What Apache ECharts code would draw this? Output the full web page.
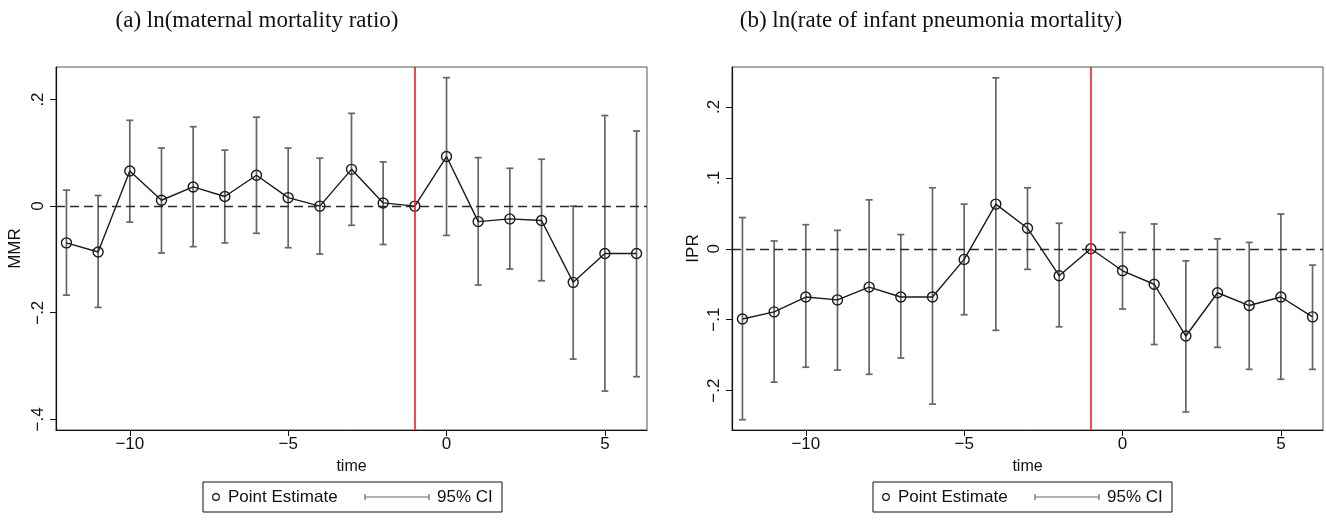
<!DOCTYPE html>
<html>
<head>
<meta charset="utf-8">
<script src="https://cdn.jsdelivr.net/npm/echarts@6/dist/echarts.min.js"></script>
<style>
  html, body { margin: 0; padding: 0; background: #fff; }
  #chart { width: 1326px; height: 520px; }
</style>
</head>
<body>
<div id="chart"></div>
<script>
// Event time relative to the reform (t = -1 is the omitted reference year)
const time = [-12, -11, -10, -9, -8, -7, -6, -5, -4, -3, -2, -1, 0, 1, 2, 3, 4, 5, 6];

// (a) ln(maternal mortality ratio): point estimates and 95% CI bounds
const mmrEst  = [-0.069, -0.086, 0.066, 0.011, 0.036, 0.018, 0.058, 0.016, 0.000, 0.069, 0.006, 0, 0.093, -0.029, -0.024, -0.027, -0.143, -0.089, -0.089];
const mmrLow  = [-0.167, -0.190, -0.030, -0.088, -0.076, -0.069, -0.051, -0.078, -0.090, -0.036, -0.072, null, -0.055, -0.148, -0.118, -0.140, -0.287, -0.347, -0.320];
const mmrHigh = [0.030, 0.020, 0.161, 0.109, 0.149, 0.105, 0.167, 0.109, 0.090, 0.174, 0.083, null, 0.241, 0.091, 0.071, 0.088, 0.000, 0.170, 0.141];

// (b) ln(rate of infant pneumonia mortality): point estimates and 95% CI bounds
const iprEst  = [-0.099, -0.089, -0.068, -0.072, -0.054, -0.068, -0.068, -0.015, 0.063, 0.029, -0.038, 0, -0.031, -0.050, -0.123, -0.062, -0.080, -0.068, -0.096];
const iprLow  = [-0.241, -0.188, -0.167, -0.171, -0.177, -0.154, -0.219, -0.093, -0.115, -0.029, -0.110, null, -0.085, -0.135, -0.230, -0.139, -0.170, -0.184, -0.170];
const iprHigh = [0.044, 0.011, 0.034, 0.026, 0.069, 0.020, 0.086, 0.063, 0.241, 0.086, 0.036, null, 0.023, 0.035, -0.017, 0.014, 0.009, 0.049, -0.023];

// Tick labels
const xTicks = [-10, -5, 0, 5];
const mmrTicks = [-0.4, -0.2, 0, 0.2];
const iprTicks = [-0.2, -0.1, 0, 0.1, 0.2];

const panelTitles = ['(a) ln(maternal mortality ratio)', '(b) ln(rate of infant pneumonia mortality)'];
const yNames = ['MMR', 'IPR'];
const eventLine = -1;

const SANS = '"Liberation Sans", Arial, Helvetica, sans-serif';
const SERIF = '"Liberation Serif", "Times New Roman", serif';
const CI_COLOR = '#666666';
const LINE_COLOR = '#1a1a1a';

function fmtY(v) {
  if (Math.abs(v) < 1e-9) return '0';
  const s = String(Math.round(Math.abs(v) * 10) / 10).replace(/^0/, '');
  return (v < 0 ? '\u2212' : '') + s;
}
function fmtX(v) {
  return v < 0 ? '\u2212' + Math.abs(v) : String(v);
}

function ciData(lo, hi) {
  const out = [];
  time.forEach((t, i) => {
    if (lo[i] !== null && hi[i] !== null) out.push([t, lo[i], hi[i]]);
  });
  return out;
}

function renderCI(params, api) {
  const x = api.value(0);
  const pLo = api.coord([x, api.value(1)]);
  const pHi = api.coord([x, api.value(2)]);
  const cap = 3.5;
  const style = { stroke: CI_COLOR, lineWidth: 1.7 };
  return {
    type: 'group',
    children: [
      { type: 'line', shape: { x1: pLo[0], y1: pLo[1], x2: pHi[0], y2: pHi[1] }, style },
      { type: 'line', shape: { x1: pLo[0] - cap, y1: pLo[1], x2: pLo[0] + cap, y2: pLo[1] }, style },
      { type: 'line', shape: { x1: pHi[0] - cap, y1: pHi[1], x2: pHi[0] + cap, y2: pHi[1] }, style }
    ]
  };
}

const grids = [
  { left: 56, top: 67, width: 591, height: 363 },
  { left: 732, top: 67, width: 591, height: 363 }
];
const yRanges = [[-0.42, 0.261], [-0.2555, 0.2563]];
const yTickSets = [mmrTicks, iprTicks];
const nameGaps = [32, 30];

const xAxes = grids.map((g, i) => ({
  type: 'value', gridIndex: i, min: -12.33, max: 6.33,
  name: 'time', nameLocation: 'middle', nameGap: 29,
  nameTextStyle: { fontFamily: SANS, fontSize: 16, color: '#111' },
  axisLine: { show: true, onZero: false, lineStyle: { color: '#111', width: 1.2 } },
  axisTick: { show: true, length: 6, customValues: xTicks, lineStyle: { color: '#111' } },
  axisLabel: { customValues: xTicks, formatter: fmtX, margin: 6, fontFamily: SANS, fontSize: 17, color: '#111' },
  splitLine: { show: false }
}));

const yAxes = grids.map((g, i) => ({
  type: 'value', gridIndex: i, min: yRanges[i][0], max: yRanges[i][1],
  name: yNames[i], nameLocation: 'middle', nameGap: nameGaps[i], nameRotate: 90,
  nameTextStyle: { fontFamily: SANS, fontSize: 17, color: '#111' },
  axisLine: { show: true, onZero: false, lineStyle: { color: '#111', width: 1.2 } },
  axisTick: { show: true, length: 6, customValues: yTickSets[i], lineStyle: { color: '#111' } },
  axisLabel: { customValues: yTickSets[i], formatter: fmtY, rotate: 90, margin: 9, fontFamily: SANS, fontSize: 17, color: '#111' },
  splitLine: { show: false }
}));

const panels = [[mmrEst, mmrLow, mmrHigh], [iprEst, iprLow, iprHigh]];
const series = [];
panels.forEach((p, i) => {
  series.push({
    type: 'custom', name: '95% CI', xAxisIndex: i, yAxisIndex: i,
    renderItem: renderCI, data: ciData(p[1], p[2]), z: 2, silent: true
  });
  series.push({
    type: 'line', name: 'Point Estimate', xAxisIndex: i, yAxisIndex: i,
    data: time.map((t, k) => [t, p[0][k]]),
    symbol: 'circle', symbolSize: 10, showSymbol: true,
    lineStyle: { color: LINE_COLOR, width: 1.4 },
    itemStyle: { color: 'rgba(0,0,0,0)', borderColor: LINE_COLOR, borderWidth: 1.4 },
    z: 3, animation: false, silent: true,
    markLine: {
      silent: true, symbol: 'none', label: { show: false }, animation: false,
      data: [
        { yAxis: 0, lineStyle: { color: '#2a2a2a', width: 1.4, type: [9, 5] } },
        { xAxis: eventLine, lineStyle: { color: '#f21c1c', width: 1.6, type: 'solid' } }
      ]
    }
  });
});

// Titles and legend boxes for both panels
const graphic = [];
const titleCenters = [257, 931];
const legendLefts = [203, 873];
panelTitles.forEach((t, i) => {
  graphic.push({
    type: 'text', x: titleCenters[i], y: 21,
    style: { text: t, font: '23px ' + SERIF, fill: '#111', align: 'center', verticalAlign: 'middle' }
  });
  const L = legendLefts[i], T = 482, W = 299, H = 30, cy = T + H / 2;
  graphic.push({ type: 'rect', shape: { x: L, y: T, width: W, height: H }, style: { fill: '#fff', stroke: '#111', lineWidth: 1 } });
  graphic.push({ type: 'circle', shape: { cx: L + 13, cy: cy, r: 3.3 }, style: { fill: 'none', stroke: '#111', lineWidth: 1.2 } });
  graphic.push({ type: 'text', x: L + 25, y: cy, style: { text: 'Point Estimate', font: '17px ' + SANS, fill: '#111', verticalAlign: 'middle' } });
  graphic.push({ type: 'line', shape: { x1: L + 162, y1: cy, x2: L + 226, y2: cy }, style: { stroke: CI_COLOR, lineWidth: 1.2 } });
  graphic.push({ type: 'line', shape: { x1: L + 162, y1: cy - 3, x2: L + 162, y2: cy + 3 }, style: { stroke: CI_COLOR, lineWidth: 1.2 } });
  graphic.push({ type: 'line', shape: { x1: L + 226, y1: cy - 3, x2: L + 226, y2: cy + 3 }, style: { stroke: CI_COLOR, lineWidth: 1.2 } });
  graphic.push({ type: 'text', x: L + 234, y: cy, style: { text: '95% CI', font: '17px ' + SANS, fill: '#111', verticalAlign: 'middle' } });
});

const chart = echarts.init(document.getElementById('chart'), null, { renderer: 'canvas' });
chart.setOption({
  backgroundColor: '#fff',
  animation: false,
  grid: grids.map(g => Object.assign({ show: true, borderColor: '#555', borderWidth: 1, backgroundColor: '#fff' }, g)),
  xAxis: xAxes,
  yAxis: yAxes,
  series: series,
  graphic: graphic
});
</script>
</body>
</html>
